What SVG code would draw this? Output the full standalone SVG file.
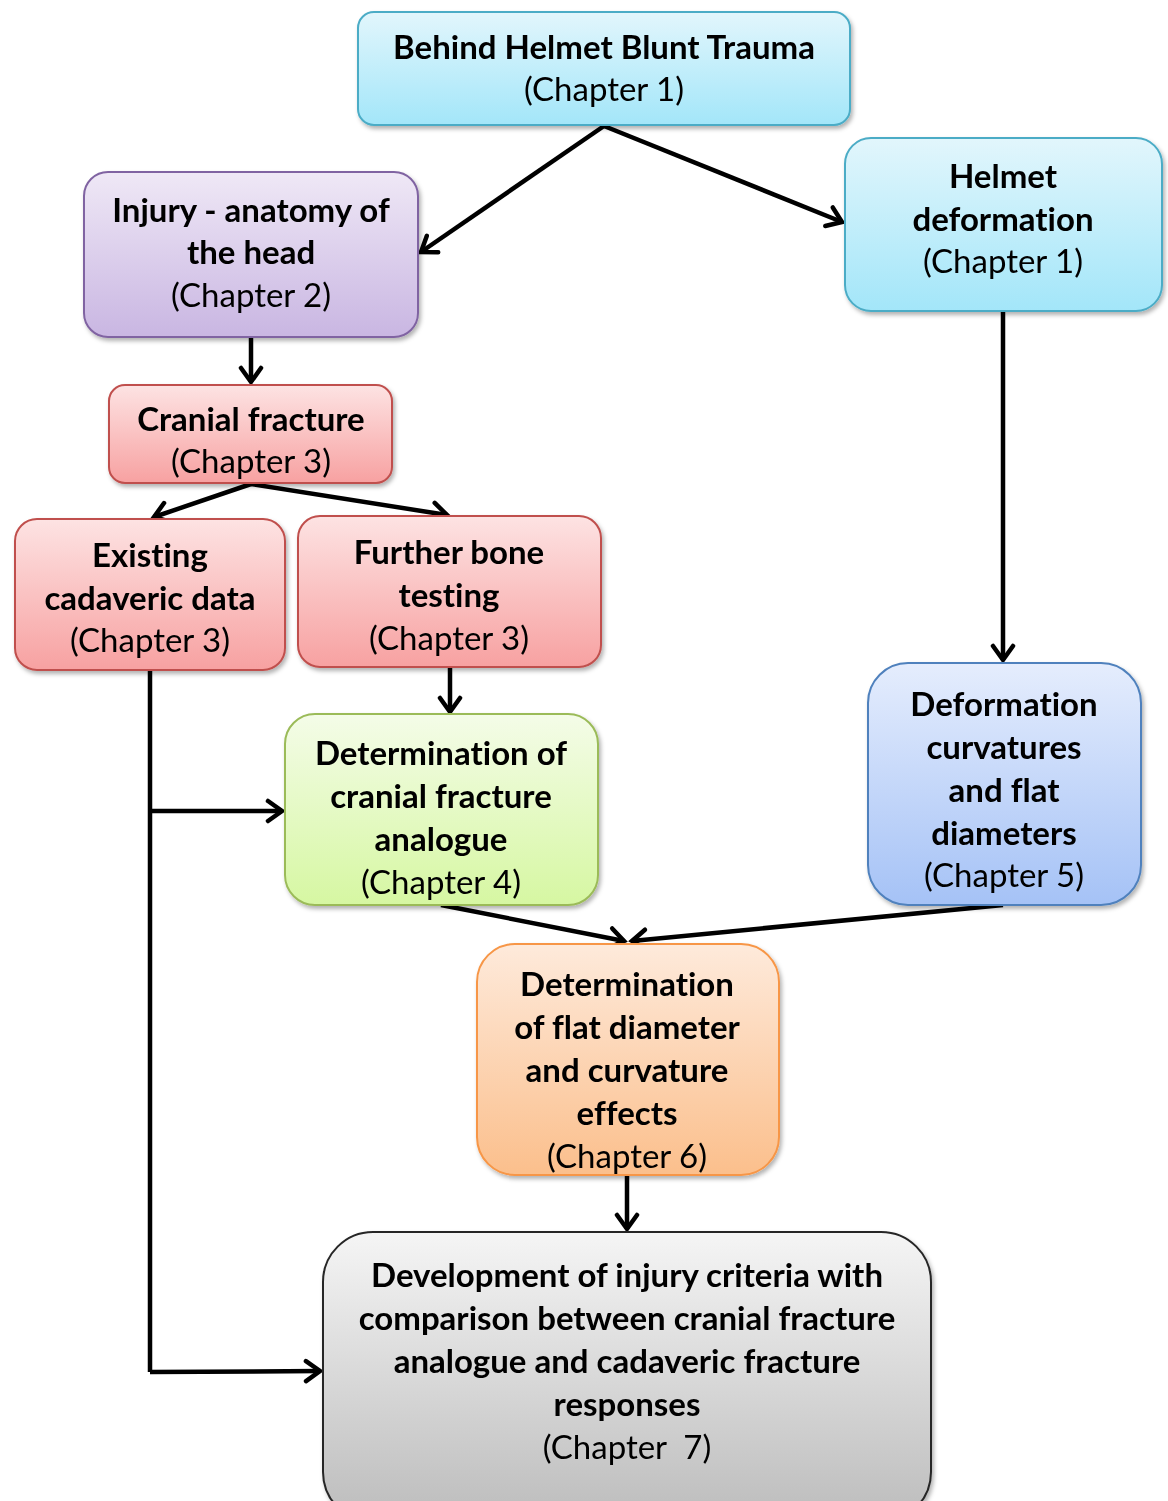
<svg xmlns="http://www.w3.org/2000/svg" width="1168" height="1501" viewBox="0 0 1168 1501">
<style>
.t{font-family:Lato,"Liberation Sans",sans-serif;font-size:33px;text-anchor:middle;fill:#000;font-variant-ligatures:none;font-feature-settings:"liga" 0}
.b{font-weight:bold}
.box{stroke-width:2}
.c{fill:none;stroke:#000;stroke-width:4.5;marker-end:url(#ah)}
.cn{fill:none;stroke:#000;stroke-width:4.5}
</style>
<defs>
<filter id="sh" x="-10%" y="-10%" width="120%" height="125%"><feDropShadow dx="2" dy="3" stdDeviation="2" flood-color="#000" flood-opacity="0.3"/></filter>
<marker id="ah" markerUnits="userSpaceOnUse" markerWidth="26" markerHeight="26" viewBox="0 0 26 26" refX="21" refY="13" orient="auto"><path d="M7,3 L21,13 L7,23" fill="none" stroke="#000" stroke-width="4.5" stroke-linecap="round" stroke-linejoin="miter"/></marker>
<linearGradient id="gc" x1="0" y1="0" x2="0" y2="1"><stop offset="0" stop-color="#e2f6fc"/><stop offset="1" stop-color="#a3e6f9"/></linearGradient>
<linearGradient id="gp" x1="0" y1="0" x2="0" y2="1"><stop offset="0" stop-color="#efe8f6"/><stop offset="1" stop-color="#c9b6e2"/></linearGradient>
<linearGradient id="gr" x1="0" y1="0" x2="0" y2="1"><stop offset="0" stop-color="#fde3e3"/><stop offset="1" stop-color="#f7a1a1"/></linearGradient>
<linearGradient id="gg" x1="0" y1="0" x2="0" y2="1"><stop offset="0" stop-color="#f4fce8"/><stop offset="1" stop-color="#d6f7a2"/></linearGradient>
<linearGradient id="gb" x1="0" y1="0" x2="0" y2="1"><stop offset="0" stop-color="#e5edfd"/><stop offset="1" stop-color="#a5c2f6"/></linearGradient>
<linearGradient id="go" x1="0" y1="0" x2="0" y2="1"><stop offset="0" stop-color="#feeadb"/><stop offset="1" stop-color="#fbbf8c"/></linearGradient>
<linearGradient id="gy" x1="0" y1="0" x2="0" y2="1"><stop offset="0" stop-color="#f5f5f5"/><stop offset="1" stop-color="#bcbcbc"/></linearGradient>
</defs>
<rect width="1168" height="1501" fill="#fff"/>

<g id="connectors">
<path class="c" d="M604,126 L421,252"/>
<path class="c" d="M604,126 L842,222"/>
<path class="c" d="M251,338 L251,382"/>
<path class="c" d="M1003,312 L1003,660"/>
<path class="c" d="M251,484 L154,517"/>
<path class="c" d="M251,484 L447,515"/>
<path class="c" d="M450,668 L450,712"/>
<path class="cn" d="M150,671 L150,1372"/>
<path class="c" d="M150,811 L282,811"/>
<path class="c" d="M150,1372 L320,1371"/>
<path class="c" d="M441,905 L624,941"/>
<path class="c" d="M1003,905 L632,941"/>
<path class="c" d="M627,1176 L627,1229"/>
</g>

<g id="n1" filter="url(#sh)"><rect class="box" x="358" y="12" width="492" height="113" rx="16" fill="url(#gc)" stroke="#4bacc6"/>
<text class="t b" x="604" y="59">Behind Helmet Blunt Trauma</text><text class="t" x="604" y="101">(Chapter 1)</text></g>

<g id="n2" filter="url(#sh)"><rect class="box" x="84" y="172" width="334" height="165" rx="24" fill="url(#gp)" stroke="#8064a2"/>
<text class="t b" x="251" y="222">Injury - anatomy of</text><text class="t b" x="251" y="264">the head</text><text class="t" x="251" y="307">(Chapter 2)</text></g>

<g id="n3" filter="url(#sh)"><rect class="box" x="845" y="138" width="317" height="173" rx="26" fill="url(#gc)" stroke="#4bacc6"/>
<text class="t b" x="1003" y="188">Helmet</text><text class="t b" x="1003" y="231">deformation</text><text class="t" x="1003" y="273">(Chapter 1)</text></g>

<g id="n4" filter="url(#sh)"><rect class="box" x="109" y="385" width="283" height="98" rx="16" fill="url(#gr)" stroke="#c0504d"/>
<text class="t b" x="251" y="431">Cranial fracture</text><text class="t" x="251" y="473">(Chapter 3)</text></g>

<g id="n5" filter="url(#sh)"><rect class="box" x="15" y="519" width="270" height="151" rx="22" fill="url(#gr)" stroke="#c0504d"/>
<text class="t b" x="150" y="567">Existing</text><text class="t b" x="150" y="610">cadaveric data</text><text class="t" x="150" y="652">(Chapter 3)</text></g>

<g id="n6" filter="url(#sh)"><rect class="box" x="298" y="516" width="303" height="151" rx="22" fill="url(#gr)" stroke="#c0504d"/>
<text class="t b" x="449" y="564">Further bone</text><text class="t b" x="449" y="607">testing</text><text class="t" x="449" y="650">(Chapter 3)</text></g>

<g id="n7" filter="url(#sh)"><rect class="box" x="285" y="714" width="313" height="191" rx="30" fill="url(#gg)" stroke="#9bbb59"/>
<text class="t b" x="441" y="765">Determination of</text><text class="t b" x="441" y="808">cranial fracture</text><text class="t b" x="441" y="851">analogue</text><text class="t" x="441" y="894">(Chapter 4)</text></g>

<g id="n8" filter="url(#sh)"><rect class="box" x="868" y="663" width="273" height="242" rx="40" fill="url(#gb)" stroke="#4f81bd"/>
<text class="t b" x="1004" y="716">Deformation</text><text class="t b" x="1004" y="759">curvatures</text><text class="t b" x="1004" y="802">and flat</text><text class="t b" x="1004" y="845">diameters</text><text class="t" x="1004" y="887">(Chapter 5)</text></g>

<g id="n9" filter="url(#sh)"><rect class="box" x="477" y="944" width="302" height="231" rx="38" fill="url(#go)" stroke="#f79646"/>
<text class="t b" x="627" y="996">Determination</text><text class="t b" x="627" y="1039">of flat diameter</text><text class="t b" x="627" y="1082">and curvature</text><text class="t b" x="627" y="1125">effects</text><text class="t" x="627" y="1168">(Chapter 6)</text></g>

<g id="n10" filter="url(#sh)"><rect class="box" x="323" y="1232" width="608" height="290" rx="50" fill="url(#gy)" stroke="#262626"/>
<text class="t b" x="627" y="1287">Development of injury criteria with</text><text class="t b" x="627" y="1330">comparison between cranial fracture</text><text class="t b" x="627" y="1373">analogue and cadaveric fracture</text><text class="t b" x="627" y="1416">responses</text><text class="t" x="627" y="1459">(Chapter&#160; 7)</text></g>
</svg>
